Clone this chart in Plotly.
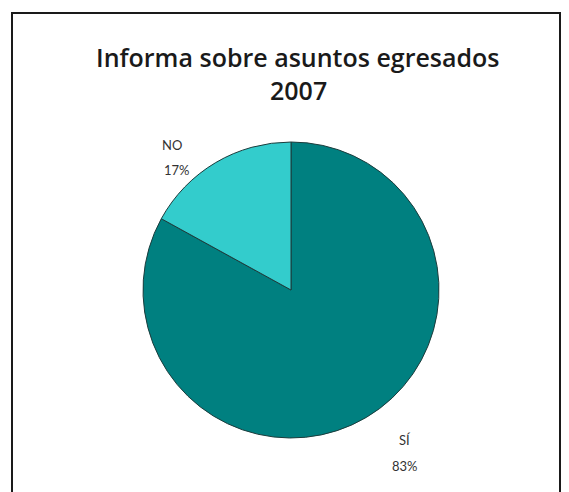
import plotly.graph_objects as go

# Survey answers and their shares (%)
labels = ["SÍ", "NO"]
values = [83, 17]
colors = ["#008080", "#33CCCC"]

title_line1 = "Informa sobre asuntos egresados"
title_line2 = "2007"

W, H = 569, 492

def px(x):
    return x / W

def py(y):
    return 1 - y / H

total = sum(values)
pct = [f"{round(v * 100 / total)}%" for v in values]

fig = go.Figure(
    go.Pie(
        labels=labels,
        values=values,
        marker=dict(colors=colors, line=dict(color="#1c3c3c", width=1)),
        sort=False,
        direction="clockwise",
        rotation=0,
        textinfo="none",
        hoverinfo="label+percent",
        showlegend=False,
        domain=dict(x=[px(143), px(439)], y=[py(438), py(142)]),
    )
)

title_font = dict(family="Open Sans", size=25, color="#1a1a1a", weight=600)
label_font = dict(family="Lato", size=13, color="#333333")

annotations = [
    dict(x=px(298), y=py(57), text=title_line1, font=title_font),
    dict(x=px(298), y=py(90), text=title_line2, font=title_font),
    dict(x=px(172), y=py(145), text=labels[1], font=label_font),
    dict(x=px(177), y=py(170), text=pct[1], font=label_font),
    dict(x=px(405), y=py(440), text=labels[0], font=label_font),
    dict(x=px(405), y=py(466), text=pct[0], font=label_font),
]
for a in annotations:
    a.update(xref="paper", yref="paper", showarrow=False,
             xanchor="center", yanchor="middle")

fig.update_layout(
    width=W,
    height=H,
    margin=dict(l=0, r=0, t=0, b=0),
    paper_bgcolor="white",
    plot_bgcolor="white",
    annotations=annotations,
    shapes=[
        dict(type="rect", xref="paper", yref="paper",
             x0=px(12), x1=px(560), y0=py(500), y1=py(13),
             line=dict(color="#1a1a1a", width=2), fillcolor="rgba(0,0,0,0)"),
    ],
)

fig.write_html("out.html")
